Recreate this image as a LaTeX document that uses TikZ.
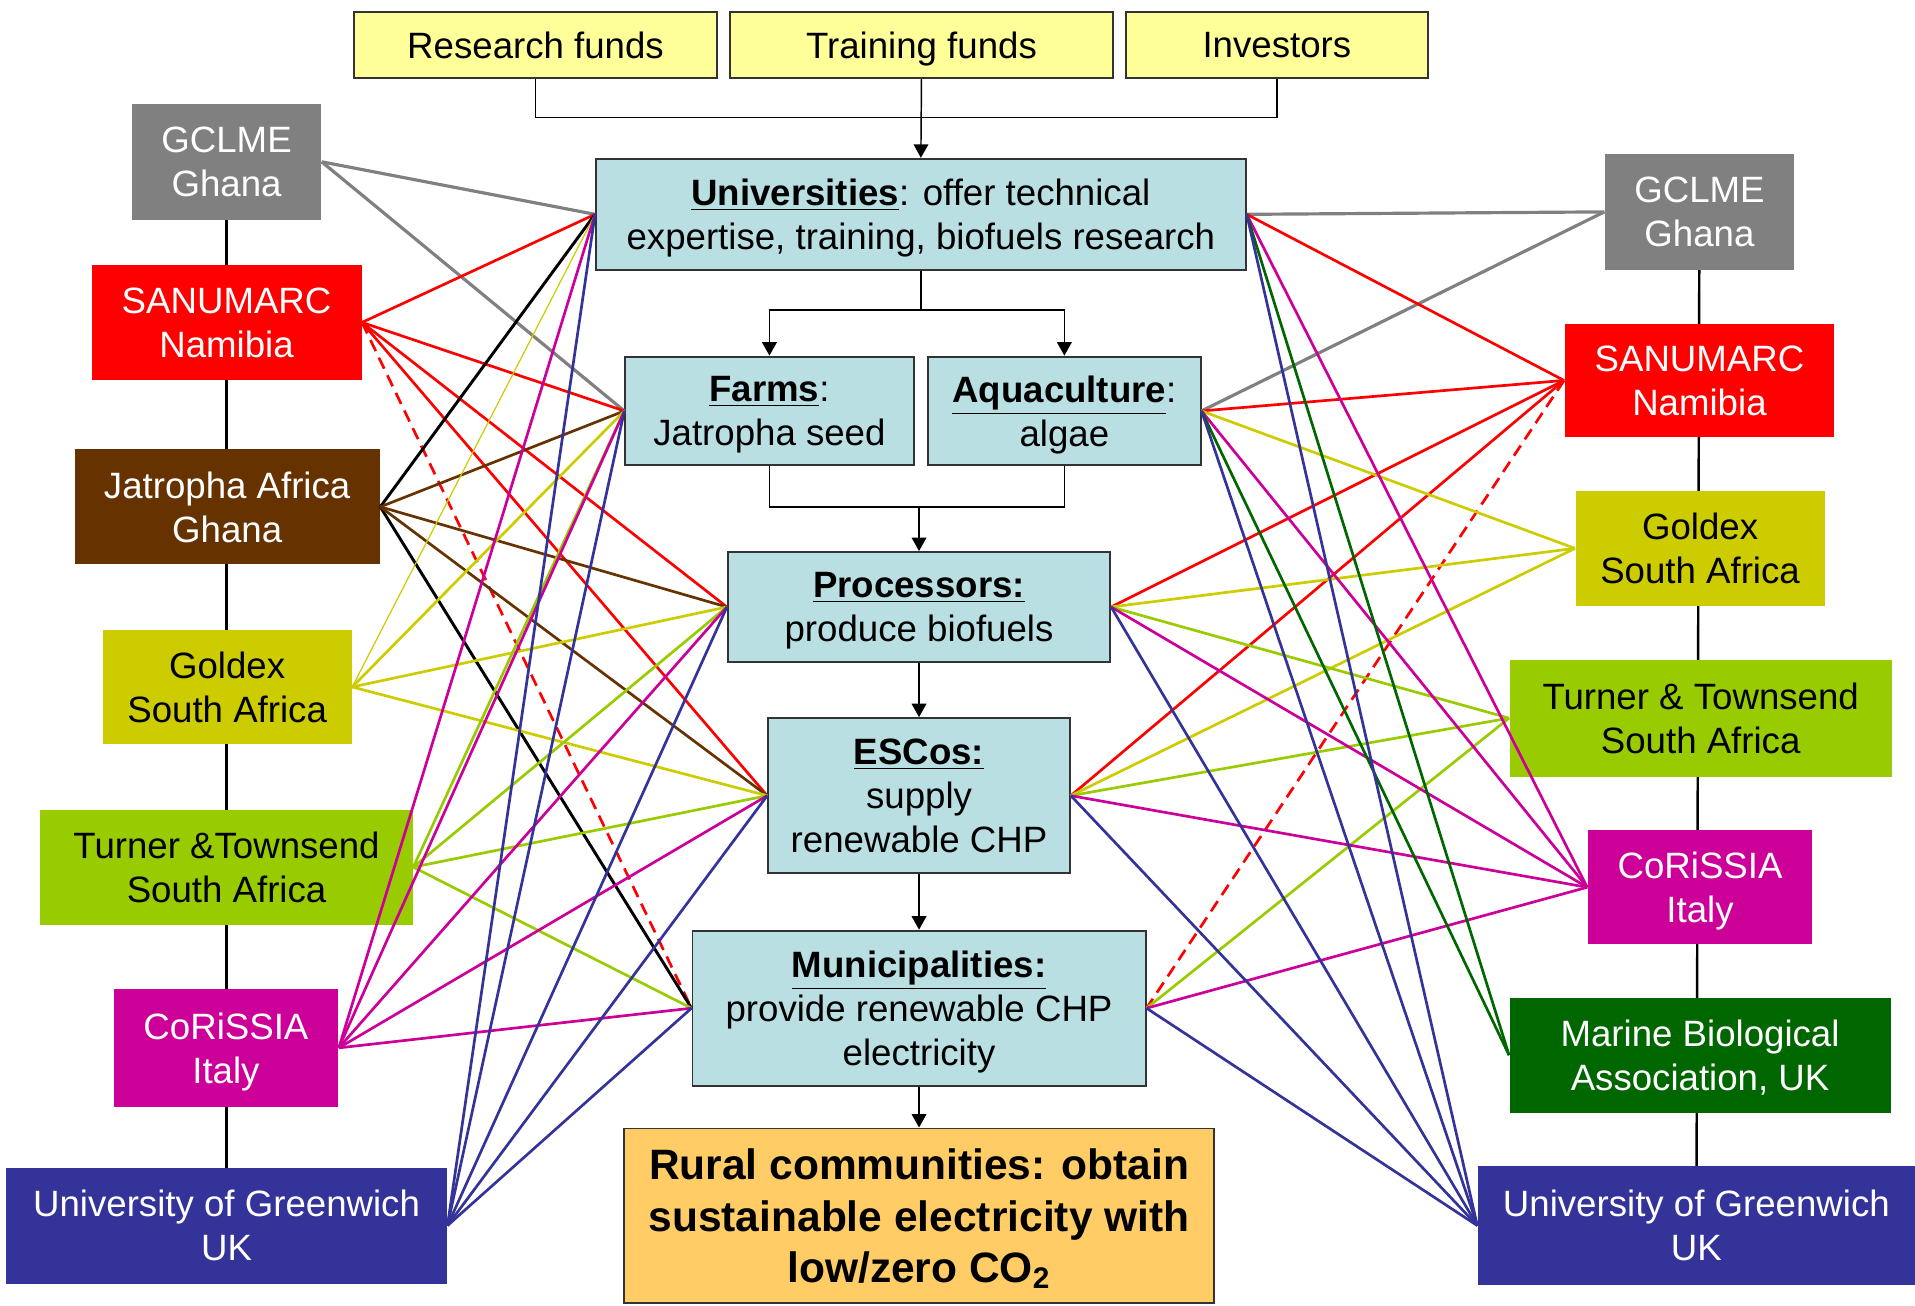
\documentclass[tikz,border=0pt]{standalone}
\usepackage{fontspec}
\setmainfont{Liberation Sans}
\usetikzlibrary{arrows.meta,backgrounds}
\definecolor{hubblue}{RGB}{185,223,227}
\definecolor{fundyellow}{RGB}{255,255,153}
\definecolor{ruralorange}{RGB}{255,204,102}
\definecolor{boxedge}{RGB}{51,51,51}
\definecolor{gclmegray}{RGB}{128,128,128}
\definecolor{sanured}{RGB}{255,0,0}
\definecolor{jatrobrown}{RGB}{102,51,0}
\definecolor{goldyellow}{RGB}{204,204,0}
\definecolor{turngreen}{RGB}{153,204,0}
\definecolor{corismag}{RGB}{204,0,153}
\definecolor{mbagreen}{RGB}{0,102,0}
\definecolor{uogblue}{RGB}{51,51,153}

\begin{document}
\begin{tikzpicture}[x=0.5pt, y=-0.5pt,
    every node/.style={font=\fontsize{15}{18}\selectfont, align=center, inner sep=0pt, text depth=-1pt},
    hub/.style={draw=boxedge, line width=0.8pt, fill=hubblue},
    fund/.style={draw=boxedge, line width=0.8pt, fill=fundyellow},
    partner/.style={fill=#1, text=white},
    darkpartner/.style={fill=#1, text=black},
    tree/.style={line width=0.6pt},
    arr/.style={tree, -{Triangle[length=5.5pt,width=6pt]}},
    link/.style={line width=1.1pt},
    thinlink/.style={line width=0.5pt}]
    \useasboundingbox (0,0) rectangle (1568,1069);

    % funding sources
    \node[fund, minimum width=148.5pt, minimum height=27pt] (rfund) at (438.5,37) {Research funds};
    \node[fund, minimum width=156.5pt, minimum height=27pt] (tfund) at (754.5,37) {Training funds};
    \node[fund, minimum width=123.5pt, minimum height=27pt] (invest) at (1045.5,37) {Investors};

    % value chain
    \node[hub, minimum width=266pt, minimum height=45.5pt] (univ) at (754,175.5)
      {\underline{\textbf{Universities}}: offer technical\\expertise, training, biofuels research};
    \node[hub, minimum width=118pt, minimum height=44.5pt] (farms) at (630,336.5)
      {\underline{\textbf{Farms}}:\\Jatropha seed};
    \node[hub, minimum width=111.5pt, minimum height=44.5pt] (aqua) at (871.5,336.5)
      {\underline{\textbf{Aquaculture}}:\\algae};
    \node[hub, minimum width=156.5pt, minimum height=45pt] (proc) at (752.5,497)
      {\underline{\textbf{Processors:}}\\produce biofuels};
    \node[hub, minimum width=123.5pt, minimum height=63.5pt] (escos) at (752.5,651.5)
      {\underline{\textbf{ESCos:}}\\supply\\renewable CHP};
    \node[hub, minimum width=185.5pt, minimum height=63.5pt] (muni) at (752.5,825.5)
      {\underline{\textbf{Municipalities:}}\\provide renewable CHP\\electricity};
    \node[draw=boxedge, line width=0.8pt, fill=ruralorange, minimum width=241.5pt, minimum height=71.5pt,
      font=\bfseries\fontsize{17.4}{21}\selectfont, text depth=-2pt] (rural) at (752.5,995.5)
      {Rural communities: obtain\\sustainable electricity with\\low/zero CO\textsubscript{2}};

    % partners, left
    \node[partner=gclmegray, minimum width=77.5pt, minimum height=47.5pt] (lgclme) at (185.5,132.5) {GCLME\\Ghana};
    \node[partner=sanured, minimum width=110.5pt, minimum height=47pt] (lsanu) at (185.5,264) {SANUMARC\\Namibia};
    \node[partner=jatrobrown, minimum width=125pt, minimum height=47pt] (ljatro) at (186,415) {Jatropha Africa\\Ghana};
    \node[darkpartner=goldyellow, minimum width=102pt, minimum height=46.5pt] (lgold) at (186,562.5) {Goldex\\South Africa};
    \node[darkpartner=turngreen, minimum width=152.5pt, minimum height=47pt] (lturn) at (185.5,710) {Turner \&Townsend\\South Africa};
    \node[partner=corismag, minimum width=92pt, minimum height=48pt] (lcoris) at (185,858) {CoRiSSIA\\Italy};
    \node[partner=uogblue, minimum width=180.5pt, minimum height=47.5pt] (luog) at (185.5,1003.5) {University of Greenwich\\UK};

    % partners, right
    \node[partner=gclmegray, minimum width=77.5pt, minimum height=47.5pt] (rgclme) at (1391.5,173.5) {GCLME\\Ghana};
    \node[partner=sanured, minimum width=110.5pt, minimum height=46.5pt] (rsanu) at (1391.5,311.5) {SANUMARC\\Namibia};
    \node[darkpartner=goldyellow, minimum width=102pt, minimum height=47pt] (rgold) at (1392,449) {Goldex\\South Africa};
    \node[darkpartner=turngreen, minimum width=156.5pt, minimum height=48pt] (rturn) at (1392.5,588) {Turner \& Townsend\\South Africa};
    \node[partner=corismag, minimum width=92pt, minimum height=46.5pt] (rcoris) at (1392,726.5) {CoRiSSIA\\Italy};
    \node[partner=mbagreen, minimum width=156pt, minimum height=47pt] (rmba) at (1392,864) {Marine Biological\\Association, UK};
    \node[partner=uogblue, minimum width=179pt, minimum height=48.5pt] (ruog) at (1389,1003.5) {University of Greenwich\\UK};

    % flow through the chain
    \coordinate (fundjoin) at (754.5,96);
    \coordinate (ufork) at (754,254);
    \coordinate (fjoin) at (752.5,415);
    \draw[tree] (rfund.south) |- (fundjoin) -| (invest.south);
    \draw[arr] (tfund.south) -- (univ.north);
    \draw[tree] (univ.south) -- (ufork);
    \draw[arr] (ufork) -| (farms.north);
    \draw[arr] (ufork) -| (aqua.north);
    \draw[tree] (farms.south) |- (fjoin) -| (aqua.south);
    \draw[arr] (fjoin) -- (proc.north);
    \draw[arr] (proc.south) -- (escos.north);
    \draw[arr] (escos.south) -- (muni.north);
    \draw[arr] (muni.south) -- (rural.north);

    % partner columns
    \begin{scope}[on background layer]
      \draw[line width=1pt] (lgclme.center) -- (luog.center);
      \draw[line width=1pt] (rgclme.center) -- (ruog.center);
    \end{scope}

    % links, left side
    \foreach \h in {univ,farms}
      \draw[link, gclmegray, line width=1.3pt] (lgclme.east) -- (\h.west);
    \foreach \h in {univ,farms,proc,escos}
      \draw[link, sanured] (lsanu.east) -- (\h.west);
    \draw[link, sanured, dash pattern=on 5pt off 3pt] (lsanu.east) -- (muni.west);
    \foreach \h in {univ,muni}
      \draw[link, black, line width=1.2pt] (ljatro.east) -- (\h.west);
    \foreach \h in {farms,proc,escos}
      \draw[link, jatrobrown] (ljatro.east) -- (\h.west);
    \draw[thinlink, goldyellow] (lgold.east) -- (univ.west);
    \foreach \h in {farms,proc,escos}
      \draw[link, goldyellow] (lgold.east) -- (\h.west);
    \foreach \h in {farms,proc,escos,muni}
      \draw[link, turngreen] (lturn.east) -- (\h.west);
    \foreach \h in {univ,farms,proc,escos,muni}
      \draw[link, corismag] (lcoris.east) -- (\h.west);
    \foreach \h in {univ,farms,proc,escos,muni}
      \draw[link, uogblue] (luog.east) -- (\h.west);

    % links, right side
    \foreach \h in {univ,aqua}
      \draw[link, gclmegray, line width=1.3pt] (rgclme.west) -- (\h.east);
    \foreach \h in {univ,aqua,proc,escos}
      \draw[link, sanured] (rsanu.west) -- (\h.east);
    \draw[link, sanured, dash pattern=on 5pt off 3pt] (rsanu.west) -- (muni.east);
    \foreach \h in {aqua,proc,escos}
      \draw[link, goldyellow] (rgold.west) -- (\h.east);
    \foreach \h in {proc,escos,muni}
      \draw[link, turngreen] (rturn.west) -- (\h.east);
    \foreach \h in {univ,aqua,proc,escos,muni}
      \draw[link, corismag] (rcoris.west) -- (\h.east);
    \foreach \h in {univ,aqua}
      \draw[link, mbagreen] (rmba.west) -- (\h.east);
    \foreach \h in {univ,aqua,proc,escos,muni}
      \draw[link, uogblue] (ruog.west) -- (\h.east);
\end{tikzpicture}
\end{document}
